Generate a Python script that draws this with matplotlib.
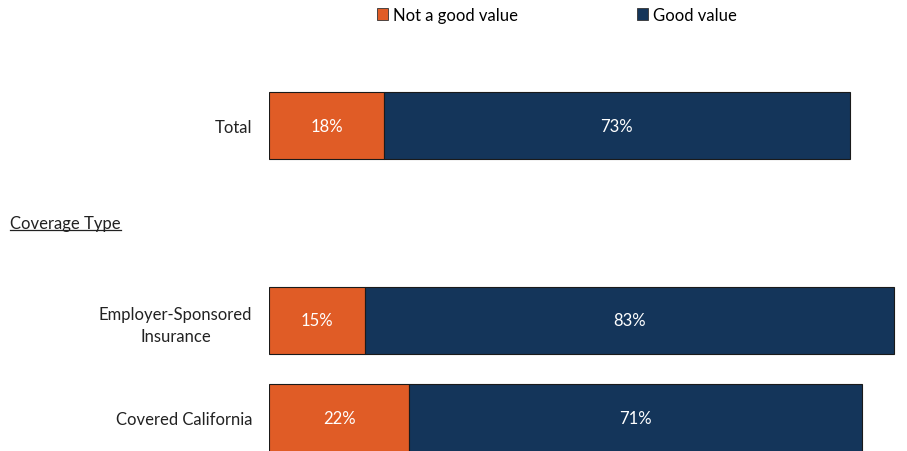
import matplotlib.pyplot as plt
from matplotlib.patches import Patch
from matplotlib.lines import Line2D

plt.rcParams['font.family'] = ['Lato', 'DejaVu Sans']

labels = ['Total', '', 'Employer-Sponsored\nInsurance', 'Covered California']
rows = [0, 1, 2, 3]
not_good = [18, None, 15, 22]
good = [73, None, 83, 71]

orange = '#E05C26'
navy = '#14355A'
fs = 12

fig = plt.figure(figsize=(9.07, 4.52), dpi=100)
ax = fig.add_axes([269 / 907, 0, 638 / 907, 1])

bar_h = 0.69
for r, a, b in zip(rows, not_good, good):
    if a is None:
        continue
    ax.barh(r, a, height=bar_h, color=orange, edgecolor='#1a1a1a', linewidth=0.8)
    ax.barh(r, b, left=a, height=bar_h, color=navy, edgecolor='#1a1a1a', linewidth=0.8)
    ax.text(a / 2, r, f'{a}%', color='white', ha='center', va='center', fontsize=fs)
    ax.text(a + b / 2, r, f'{b}%', color='white', ha='center', va='center', fontsize=fs)

# slot spacing ~97.5 px, first row centred ~126 px from the top
ax.set_xlim(0, 100)
ax.set_ylim((452 - 126.5) / 97.5, -126.5 / 97.5)
ax.set_yticks(rows)
ax.set_yticklabels(labels, fontsize=fs, color='#222222')
for t in ax.get_yticklabels():
    t.set_multialignment('center')
    t.set_linespacing(1.45)
ax.tick_params(axis='y', length=0, pad=12)
ax.set_xticks([])
for s in ax.spines.values():
    s.set_visible(False)

# section header with an underline
hdr = fig.text(10 / 907, 1 - 224 / 452, 'Coverage Type', fontsize=fs,
               color='#222222', ha='left', va='center')
fig.canvas.draw()
bb = hdr.get_window_extent().transformed(fig.transFigure.inverted())
fig.add_artist(Line2D([bb.x0, bb.x1], [bb.y0 + 0.002, bb.y0 + 0.002],
                      transform=fig.transFigure, color='#222222', lw=0.9))

handles = [Patch(facecolor=orange, edgecolor='#333333', linewidth=0.6),
           Patch(facecolor=navy, edgecolor='#333333', linewidth=0.6)]
fig.legend(handles, ['Not a good value', 'Good value'], ncol=2,
           loc='center', bbox_to_anchor=(557 / 907, 1 - 16 / 452),
           frameon=False, fontsize=fs, handlelength=0.7, handleheight=0.7,
           handletextpad=0.3, columnspacing=7.1)

fig.savefig('out.png', dpi=100)
